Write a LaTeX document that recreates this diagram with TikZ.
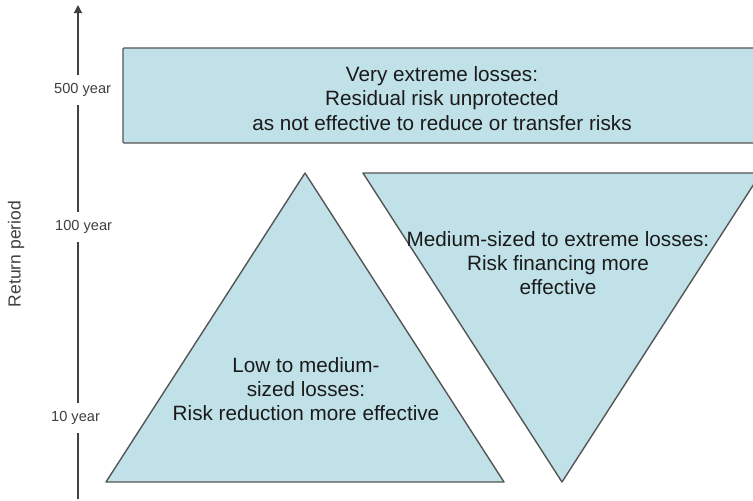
\documentclass[tikz,border=0pt]{standalone}
\usepackage{fontspec}
\setmainfont{Liberation Sans}
\usetikzlibrary{arrows.meta}

\definecolor{paleblue}{HTML}{C0E1E8}
\definecolor{edgegray}{HTML}{555555}
\definecolor{inkgray}{HTML}{1A1A1A}
\definecolor{labelgray}{HTML}{404040}

\tikzset{
  zone/.style={fill=paleblue, draw=edgegray, line width=1.4pt, line join=round},
  bigtext/.style={align=center, text=inkgray, inner sep=0pt,
    font=\fontsize{20.7}{24.3}\selectfont},
  yearlabel/.style={anchor=west, fill=white, inner xsep=1pt, inner ysep=8pt,
    text=labelgray, font=\fontsize{14.6}{16}\selectfont},
  axisline/.style={draw=labelgray, line width=1.3pt,
    -{Triangle[length=8pt,width=8pt]}},
}

\begin{document}
\begin{tikzpicture}[x=1pt, y=-1pt]
  \useasboundingbox (0,0) rectangle (753,501);
  \clip (0,0) rectangle (753,501);

  % vertical return-period axis
  \coordinate (axbot) at (78,499);
  \coordinate (axtop) at (78,5);
  \draw[axisline] (axbot) -- (axtop);
  \node[yearlabel] (y500) at (53,90) {500 year};
  \node[yearlabel] (y100) at (54,227) {100 year};
  \node[yearlabel] (y10)  at (50,418) {10 year};
  \node[rotate=90, text=labelgray, font=\fontsize{17.5}{19}\selectfont]
    (axtitle) at (16,254) {Return period};

  % band of very extreme losses
  \draw[zone, rounded corners=1pt] (123,48) rectangle (775,143);
  \node[bigtext] (extreme) at (442,98.5)
    {Very extreme losses:\\Residual risk unprotected\\as not effective to reduce or transfer risks};

  % risk reduction triangle (pointing up)
  \draw[zone] (305,173) -- (504,482) -- (106,482) -- cycle;
  \node[bigtext] (reduction) at (306,389)
    {Low to medium-\\sized losses:\\Risk reduction more effective};

  % risk financing triangle (pointing down)
  \draw[zone] (363,173) -- (761,173) -- (562,482) -- cycle;
  \node[bigtext] (financing) at (558,263)
    {Medium-sized to extreme losses:\\Risk financing more\\effective};
\end{tikzpicture}
\end{document}
